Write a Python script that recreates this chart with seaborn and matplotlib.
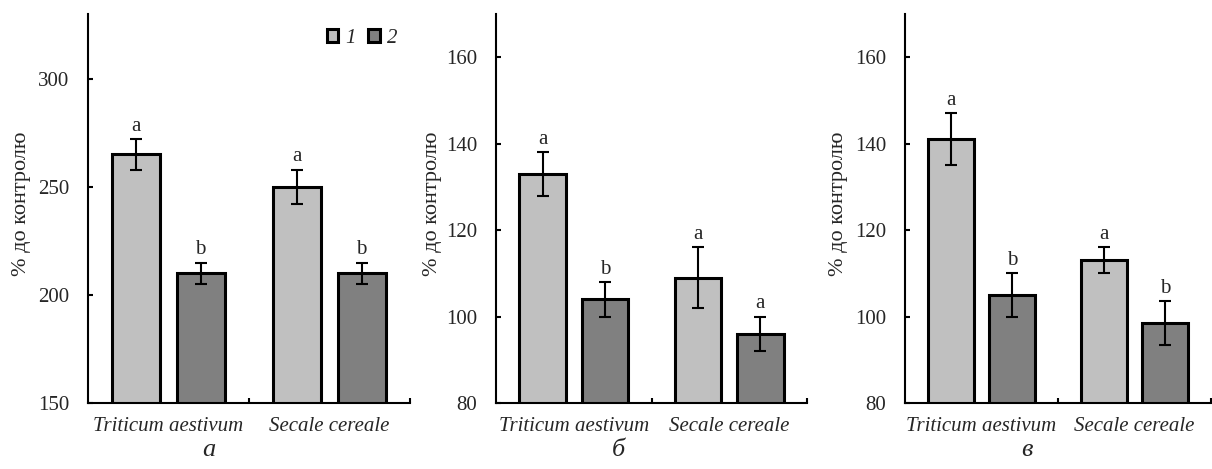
import matplotlib
matplotlib.use("Agg")
import matplotlib.pyplot as plt
import seaborn as sns
import pandas as pd
import numpy as np

species = ["Triticum aestivum", "Secale cereale"]
groups = ["1", "2"]

# panel a
a_vals = [[265, 210], [250, 210]]
a_err = [[7, 5], [8, 5]]
a_let = [["a", "b"], ["a", "b"]]
# panel б
b_vals = [[133, 104], [109, 96]]
b_err = [[5, 4], [7, 4]]
b_let = [["a", "b"], ["a", "a"]]
# panel в
c_vals = [[141, 105], [113, 98.5]]
c_err = [[6, 5], [3, 5]]
c_let = [["a", "b"], ["a", "b"]]

panel_names = ["а", "б", "в"]
ylims = [(150, 330), (80, 170), (80, 170)]
yticks = [[150, 200, 250, 300], [80, 100, 120, 140, 160], [80, 100, 120, 140, 160]]
ylabel = "% до контролю"

colors = ["#C0C0C0", "#808080"]

sns.set_theme(style="white")
plt.rcParams['font.family'] = ['Liberation Serif', 'DejaVu Serif']

fig = plt.figure(figsize=(12.12, 4.69), dpi=100)
W, H = 1212, 469
boxes = [(88, 410), (496, 807), (905, 1211)]
ylab_x = [22, 433, 838]
letter_x = [209, 618, 1027]
top, bot = 14, 403

datasets = [(a_vals, a_err, a_let), (b_vals, b_err, b_let), (c_vals, c_err, c_let)]

for i, ((vals, errs, lets), (x0, x1)) in enumerate(zip(datasets, boxes)):
    ax = fig.add_axes([x0 / W, 1 - bot / H, (x1 - x0) / W, (bot - top) / H])
    rows = []
    for s, v, e, l in zip(species, vals, errs, lets):
        for g, vv, ee, ll in zip(groups, v, e, l):
            rows.append(dict(species=s, group=g, value=vv, err=ee, letter=ll))
    df = pd.DataFrame(rows)
    sns.barplot(data=df, x="species", y="value", hue="group", hue_order=groups,
                order=species, palette=colors, errorbar=None, width=0.8, gap=0.25,
                edgecolor="black", linewidth=2.2, ax=ax, legend=(i == 0), zorder=2)
    for gi, g in enumerate(groups):
        sub = df[df.group == g]
        for si, s in enumerate(species):
            r = sub[sub.species == s].iloc[0]
            xc = si + (-0.2 if gi == 0 else 0.2)
            ax.errorbar(xc, r.value, yerr=r.err, fmt="none", ecolor="black",
                        elinewidth=1.5, capsize=4.3, capthick=1.5, zorder=3)
            ax.annotate(r.letter, (xc, r.value + r.err), xytext=(0, 2.5),
                        textcoords="offset points", ha="center", va="bottom",
                        fontsize=15)
    ax.set_xlim(-0.5, 1.5)
    ax.set_ylim(*ylims[i])
    ax.set_yticks(yticks[i])
    ax.set_xlabel("")
    ax.set_ylabel("")
    for sp in ["top", "right"]:
        ax.spines[sp].set_visible(False)
    for sp in ["left", "bottom"]:
        ax.spines[sp].set_color("black")
        ax.spines[sp].set_linewidth(1.5)
    ax.tick_params(axis="y", which="major", direction="in", length=3.5, width=1.5,
                   color="black", labelsize=15, pad=13.5, left=True)
    ax.set_xticks([0, 1])
    ax.set_xticklabels(species, fontstyle="italic", fontsize=15)
    ax.tick_params(axis="x", which="major", length=0, pad=10)
    ax.set_xticks([0.5, 1.5], minor=True)
    ax.tick_params(axis="x", which="minor", direction="in", length=3.5, width=1.5,
                   color="black", bottom=True)
    fig.text(ylab_x[i] / W, 1 - 204 / H, ylabel, rotation=90, ha="center",
             va="center", fontsize=16)
    fig.text(letter_x[i] / W, 1 - 450 / H, panel_names[i], ha="center",
             va="center", fontsize=19, fontstyle="italic")
    if i == 0:
        leg = ax.legend(loc="upper right", bbox_to_anchor=(1.02, 1.01), ncol=2,
                        frameon=False, handlelength=0.55, handleheight=0.55,
                        handletextpad=0.35, columnspacing=0.6,
                        prop=dict(style="italic", size=15))
        for h in leg.legend_handles:
            h.set_edgecolor("black")
            h.set_linewidth(2.2)

fig.savefig("out.png", dpi=100)
